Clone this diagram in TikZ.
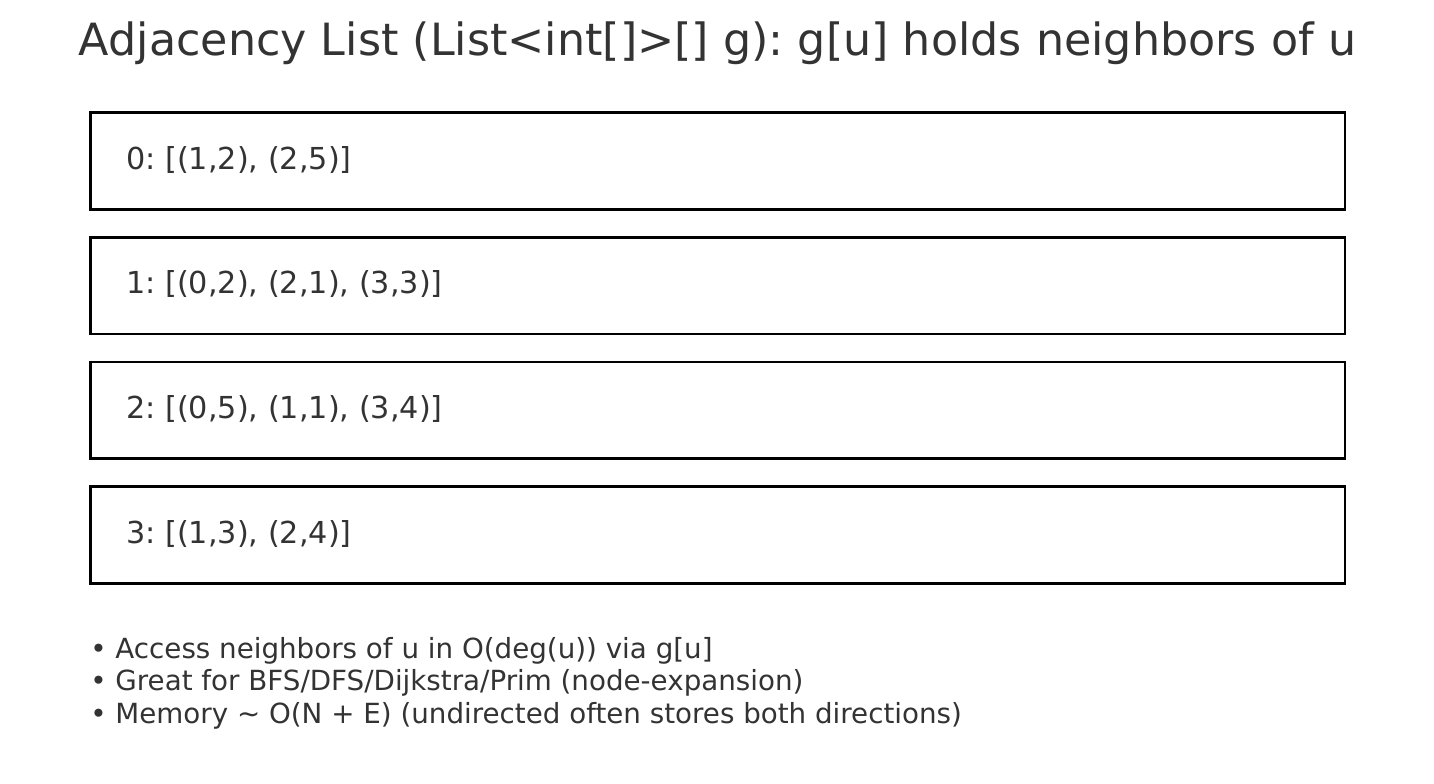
\documentclass[tikz,border=0pt]{standalone}
\usepackage{fontspec}
\setmainfont{DejaVu Sans}
\usetikzlibrary{positioning}
\definecolor{txtcol}{RGB}{51,51,51}
\frenchspacing

\begin{document}
\begin{tikzpicture}[x=0.75pt, y=-0.75pt,
    every node/.style={inner sep=0pt, text=txtcol},
    rowbox/.style={draw=black, line width=1.9pt,
                   minimum width=940.9pt, minimum height=72.5pt},
    rowlabel/.style={font=\fontsize{22.7}{27}\selectfont, anchor=base west},
    note/.style={font=\fontsize{20.8}{25}\selectfont, anchor=base west}]
  \useasboundingbox (0,0) rectangle (1434,783);
  \node[font=\fontsize{33.3}{40}\selectfont, anchor=base] (title) at (717.5,55)
    {Adjacency List (List<int[]>[] g): g[u] holds neighbors of u};
  \foreach \i/\adj in {0/{[(1,2), (2,5)]}, 1/{[(0,2), (2,1), (3,3)]},
                       2/{[(0,5), (1,1), (3,4)]}, 3/{[(1,3), (2,4)]}}{
    \node[rowbox] (row\i) at (717.75,{160.9+124.7*\i}) {};
    \node[rowlabel] (lab\i) at ([xshift=27.6pt,yshift=-6.1pt]row\i.west)
      {\i: \adj};
  }
  \node[note] (note0) at (90,658.3)
    {• Access neighbors of u in O(deg(u)) via g[u]};
  \node[note] (note1) at (90,690.8)
    {• Great for BFS/DFS/Dijkstra/Prim (node-expansion)};
  \node[note] (note2) at (90,723.3)
    {• Memory \textasciitilde{} O(N + E) (undirected often stores both directions)};
\end{tikzpicture}
\end{document}
